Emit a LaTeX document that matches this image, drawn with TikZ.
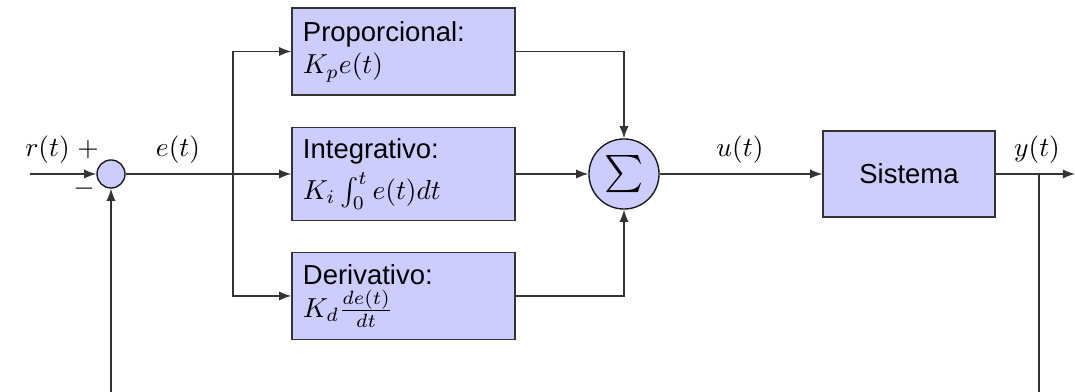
\documentclass[tikz,border=0pt]{standalone}
\usepackage{fontspec}
\setmainfont{Liberation Sans}
\usetikzlibrary{arrows}
\begin{document}
\begin{tikzpicture}[x=0.364pt,y=-0.364pt,
  block/.style={draw=black!80, fill=blue!20, line width=0.5pt, minimum width=81.2pt, minimum height=31.7pt, align=left, text width=73.2pt, inner sep=4pt},
  sysblock/.style={draw=black!80, fill=blue!20, line width=0.5pt, minimum width=62.6pt, minimum height=31.3pt, inner sep=0pt},
  sumsmall/.style={circle, draw=black!90, fill=blue!20, line width=0.5pt, minimum size=10.2pt, inner sep=0pt},
  sumbig/.style={circle, draw=black!90, fill=blue!20, line width=0.5pt, minimum size=25.5pt, inner sep=0pt},
  conn/.style={draw=black!80, line width=0.55pt},
  arr/.style={conn, -latex},
  lbl/.style={inner sep=0pt}]
\useasboundingbox (0,0) rectangle (1075,392);
\clip (0,0) rectangle (1075,392);
% nodes
\node[sumsmall] (s1) at (111,174) {};
\node[block] (prop) at (403.5,51.5) {Proporcional:\\ $K_p e(t)$};
\node[block] (integ) at (403.5,174) {Integrativo:\\[3pt] $K_i \int_0^t e(t) dt$};
\node[block] (deriv) at (403.5,296) {Derivativo:\\ $K_d \frac{de(t)}{dt}$};
\node[sumbig] (sig) at (624,174) {\scalebox{1.35}{$\sum$}};
\node[sysblock] (sys) at (909,174) {Sistema};
% labels
\node[lbl] (lr) at (62,150) {$r(t)\ +$};
\node[lbl] (lm) at (84,189) {$-$};
\node[lbl] (le) at (178,150) {$e(t)$};
\node[lbl] (lu) at (740,150) {$u(t)$};
\node[lbl] (ly) at (1037,150) {$y(t)$};
% coordinates
\coordinate (in) at (30,174);
\coordinate (br) at (233,174);
\coordinate (out) at (1075,174);
\coordinate (fb) at (1039,174);
\coordinate (fbd) at (1039,430);
% connectors
\draw[arr] (in) -- (s1);
\draw[arr] (s1) -- (integ);
\draw[arr] (br) |- (prop.west);
\draw[arr] (br) |- (deriv.west);
\draw[arr] (integ) -- (sig);
\draw[arr] (prop.east) -| (sig.north);
\draw[arr] (deriv.east) -| (sig.south);
\draw[arr] (sig) -- (sys);
\draw[arr] (sys) -- (out);
\draw[arr] (fb) -- (fbd) -| (s1.south);
\end{tikzpicture}
\end{document}
